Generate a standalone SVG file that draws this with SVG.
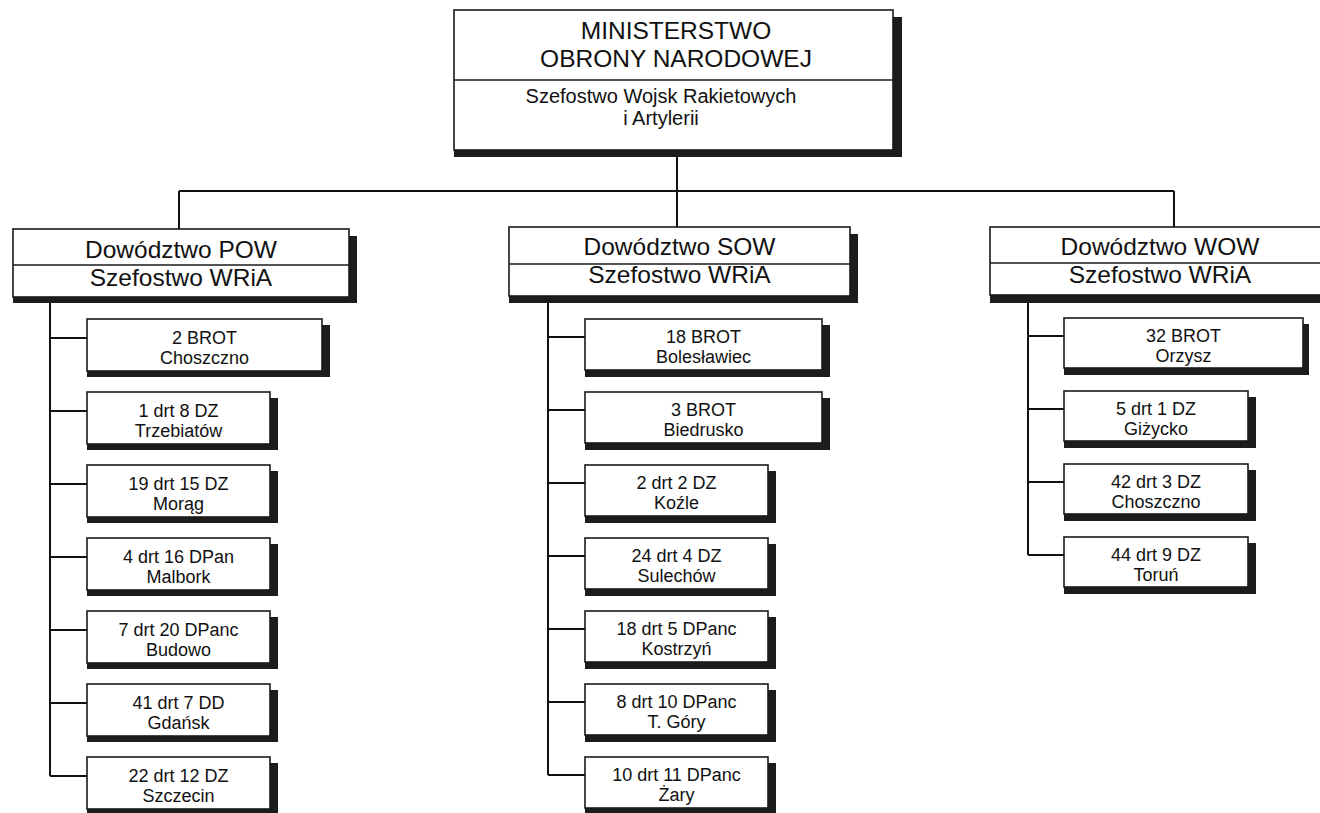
<svg xmlns="http://www.w3.org/2000/svg" width="1320" height="813" viewBox="0 0 1320 813">
<style>
.sh{fill:#1c1c1c}
.bx{fill:#fff;stroke:#1a1a1a;stroke-width:1.6}
.dv{stroke:#1a1a1a;stroke-width:1.6}
.cn{stroke:#111;stroke-width:2;fill:none}
text{font-family:"Liberation Sans",Arial,sans-serif;fill:#111;text-anchor:middle}
.hd{font-size:24.5px}
.sb{font-size:20px}
.ch{font-size:18px}
</style>
<rect width="1320" height="813" fill="#fff"/>
<g id="connectors">
<path class="cn" d="M677 157V191M179 191H1174M179 191V229M677 191V227M1174 191V227"/>
<path class="cn" d="M50 303V776M50 338H87M50 411H87M50 484H87M50 557H87M50 630H87M50 703H87M50 776H87"/>
<path class="cn" d="M548 303V775M548 337H585M548 410H585M548 483H585M548 556H585M548 629H585M548 702H585M548 775H585"/>
<path class="cn" d="M1028 303V555M1028 336H1064M1028 409H1064M1028 482H1064M1028 555H1064"/>
</g>
<g id="mon">
<rect class="sh" x="454" y="17" width="448" height="140"/>
<rect class="bx" x="454" y="10" width="439" height="140"/>
<line class="dv" x1="454" y1="80" x2="893" y2="80"/>
<text class="hd" x="676" y="39">MINISTERSTWO</text>
<text class="hd" x="676" y="67">OBRONY NARODOWEJ</text>
<text class="sb" x="661" y="103">Szefostwo Wojsk Rakietowych</text>
<text class="sb" x="661" y="125">i Artylerii</text>
</g>
<g id="pow">
<rect class="sh" x="13" y="236" width="344" height="67"/>
<rect class="bx" x="13" y="229" width="336" height="68"/>
<line class="dv" x1="13" y1="265" x2="349" y2="265"/>
<text class="hd" x="181" y="258">Dowództwo POW</text>
<text class="hd" x="181" y="286">Szefostwo WRiA</text>
</g>
<g id="sow">
<rect class="sh" x="509" y="234" width="349" height="69"/>
<rect class="bx" x="509" y="227" width="341" height="69"/>
<line class="dv" x1="509" y1="264" x2="850" y2="264"/>
<text class="hd" x="679.5" y="255">Dowództwo SOW</text>
<text class="hd" x="679.5" y="283">Szefostwo WRiA</text>
</g>
<g id="wow">
<rect class="sh" x="990" y="234" width="349" height="69"/>
<rect class="bx" x="990" y="227" width="340" height="68"/>
<line class="dv" x1="990" y1="263" x2="1330" y2="263"/>
<text class="hd" x="1160" y="255">Dowództwo WOW</text>
<text class="hd" x="1160" y="283">Szefostwo WRiA</text>
</g>
<g id="p1"><rect class="sh" x="87" y="325" width="243" height="52"/><rect class="bx" x="87" y="319" width="235" height="52"/><text class="ch" x="204.5" y="344">2 BROT</text><text class="ch" x="204.5" y="364">Choszczno</text></g>
<g id="p2"><rect class="sh" x="87" y="398" width="191" height="52"/><rect class="bx" x="87" y="392" width="183" height="52"/><text class="ch" x="178.5" y="417">1 drt 8 DZ</text><text class="ch" x="178.5" y="437">Trzebiatów</text></g>
<g id="p3"><rect class="sh" x="87" y="471" width="191" height="52"/><rect class="bx" x="87" y="465" width="183" height="52"/><text class="ch" x="178.5" y="490">19 drt 15 DZ</text><text class="ch" x="178.5" y="510">Morąg</text></g>
<g id="p4"><rect class="sh" x="87" y="544" width="191" height="52"/><rect class="bx" x="87" y="538" width="183" height="52"/><text class="ch" x="178.5" y="563">4 drt 16 DPan</text><text class="ch" x="178.5" y="583">Malbork</text></g>
<g id="p5"><rect class="sh" x="87" y="617" width="191" height="52"/><rect class="bx" x="87" y="611" width="183" height="52"/><text class="ch" x="178.5" y="636">7 drt 20 DPanc</text><text class="ch" x="178.5" y="656">Budowo</text></g>
<g id="p6"><rect class="sh" x="87" y="690" width="191" height="52"/><rect class="bx" x="87" y="684" width="183" height="52"/><text class="ch" x="178.5" y="709">41 drt 7 DD</text><text class="ch" x="178.5" y="729">Gdańsk</text></g>
<g id="p7"><rect class="sh" x="87" y="763" width="191" height="52"/><rect class="bx" x="87" y="757" width="183" height="52"/><text class="ch" x="178.5" y="782">22 drt 12 DZ</text><text class="ch" x="178.5" y="802">Szczecin</text></g>
<g id="s1"><rect class="sh" x="585" y="325" width="245" height="52"/><rect class="bx" x="585" y="319" width="237" height="51"/><text class="ch" x="703.5" y="343">18 BROT</text><text class="ch" x="703.5" y="363">Bolesławiec</text></g>
<g id="s2"><rect class="sh" x="585" y="398" width="245" height="52"/><rect class="bx" x="585" y="392" width="237" height="51"/><text class="ch" x="703.5" y="416">3 BROT</text><text class="ch" x="703.5" y="436">Biedrusko</text></g>
<g id="s3"><rect class="sh" x="585" y="471" width="191" height="52"/><rect class="bx" x="585" y="465" width="183" height="51"/><text class="ch" x="676.5" y="489">2 drt 2 DZ</text><text class="ch" x="676.5" y="509">Koźle</text></g>
<g id="s4"><rect class="sh" x="585" y="544" width="191" height="52"/><rect class="bx" x="585" y="538" width="183" height="51"/><text class="ch" x="676.5" y="562">24 drt 4 DZ</text><text class="ch" x="676.5" y="582">Sulechów</text></g>
<g id="s5"><rect class="sh" x="585" y="617" width="191" height="52"/><rect class="bx" x="585" y="611" width="183" height="51"/><text class="ch" x="676.5" y="635">18 drt 5 DPanc</text><text class="ch" x="676.5" y="655">Kostrzyń</text></g>
<g id="s6"><rect class="sh" x="585" y="690" width="191" height="52"/><rect class="bx" x="585" y="684" width="183" height="51"/><text class="ch" x="676.5" y="708">8 drt 10 DPanc</text><text class="ch" x="676.5" y="728">T. Góry</text></g>
<g id="s7"><rect class="sh" x="585" y="763" width="191" height="52"/><rect class="bx" x="585" y="757" width="183" height="51"/><text class="ch" x="676.5" y="781">10 drt 11 DPanc</text><text class="ch" x="676.5" y="801">Żary</text></g>
<g id="w1"><rect class="sh" x="1064" y="324" width="245" height="51"/><rect class="bx" x="1064" y="318" width="239" height="50"/><text class="ch" x="1183.5" y="342">32 BROT</text><text class="ch" x="1183.5" y="362">Orzysz</text></g>
<g id="w2"><rect class="sh" x="1064" y="397" width="192" height="51"/><rect class="bx" x="1064" y="391" width="184" height="50"/><text class="ch" x="1156" y="415">5 drt 1 DZ</text><text class="ch" x="1156" y="435">Giżycko</text></g>
<g id="w3"><rect class="sh" x="1064" y="470" width="192" height="51"/><rect class="bx" x="1064" y="464" width="184" height="50"/><text class="ch" x="1156" y="488">42 drt 3 DZ</text><text class="ch" x="1156" y="508">Choszczno</text></g>
<g id="w4"><rect class="sh" x="1064" y="543" width="192" height="51"/><rect class="bx" x="1064" y="537" width="184" height="50"/><text class="ch" x="1156" y="561">44 drt 9 DZ</text><text class="ch" x="1156" y="581">Toruń</text></g>
</svg>
